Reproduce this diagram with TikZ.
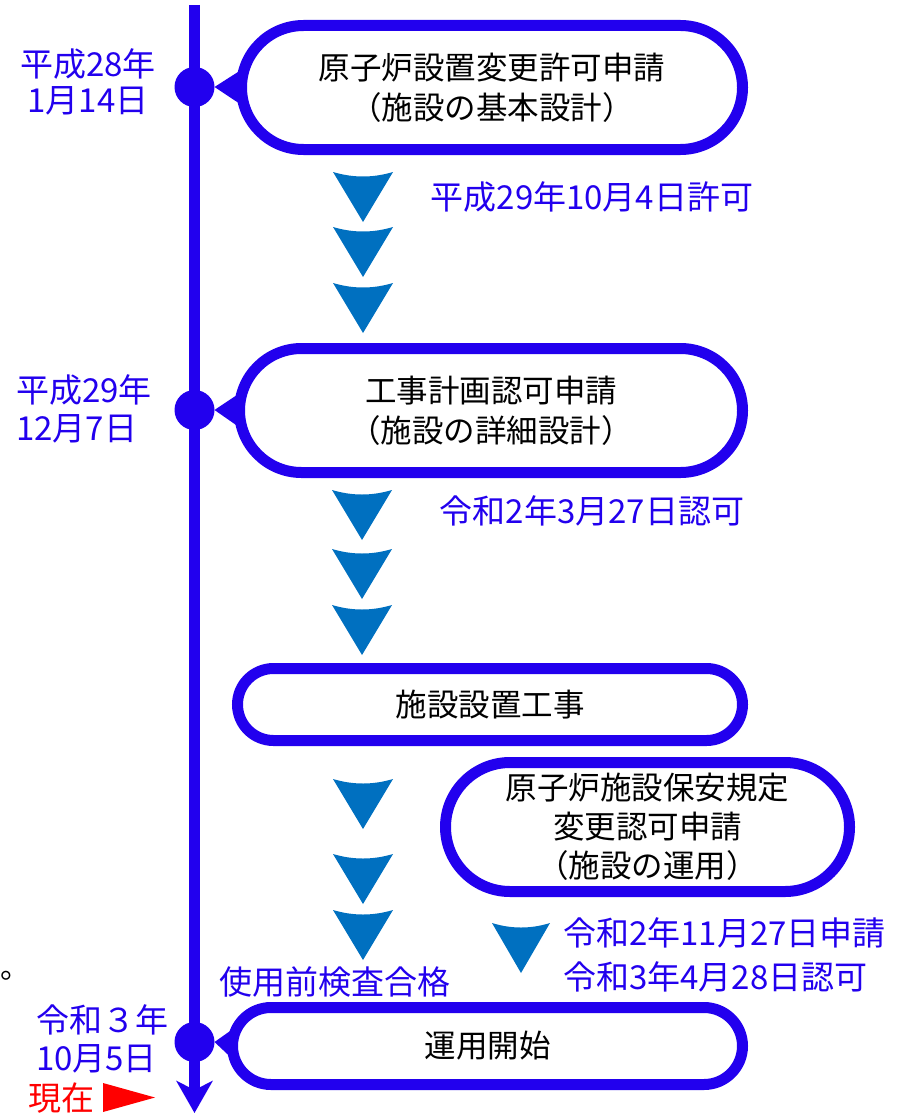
\documentclass[tikz,border=0pt]{standalone}
\usepackage{fontspec}
\setmainfont{Noto Sans CJK JP}
\usetikzlibrary{shapes.misc,arrows.meta,calc}
\pgfdeclarelayer{background}
\pgfsetlayers{background,main}
\definecolor{tblue}{RGB}{34,0,238}
\definecolor{triblue}{RGB}{0,112,192}
\begin{document}
\begin{tikzpicture}[x=1pt,y=-1pt,
  bbox/.style={rounded rectangle, draw=tblue, line width=11pt, fill=white, inner sep=0pt, outer sep=0pt,
    font=\fontsize{31.5}{40}\selectfont, align=center, text=black},
  dtext/.style={font=\fontsize{33}{37}\selectfont, text=tblue, inner sep=0pt},
  tdot/.style={circle, fill=tblue, minimum size=40pt, inner sep=0pt, outer sep=0pt},
  timeline/.style={draw=tblue, line width=11pt, -{Stealth[length=32pt, width=36pt, inset=9pt]}},
  pointer/.style={fill=tblue},
  chevron/.pic={\fill[triblue] (-30,0) .. controls (-10,6) and (10,6) .. (30,0) -- (0,50) -- cycle;},
  smallchevron/.pic={\fill[triblue] (-29,0) .. controls (-10,6) and (10,6) .. (29,0) -- (0,50) -- cycle;}
]
\useasboundingbox (0,0) rectangle (905,1113);

% timeline
\coordinate (tltop) at (194.5,5);
\coordinate (tlbot) at (194.5,1113);
\draw[timeline] (tltop) -- (tlbot);

% dots
\node[tdot] (d1) at (194.5,87) {};
\node[tdot] (d2) at (194.5,410) {};
\node[tdot] (d3) at (194.5,1042) {};

% boxes
\node[bbox, minimum width=501pt, minimum height=124pt] (b1) at (492,87.5) {原子炉設置変更許可申請\\（施設の基本設計）};
\node[bbox, minimum width=503pt, minimum height=124pt] (b2) at (491,410.5) {工事計画認可申請\\（施設の詳細設計）};
\node[bbox, minimum width=505pt, minimum height=72pt] (b3) at (490,704.5) {施設設置工事};
\node[bbox, minimum width=404pt, minimum height=129pt, font=\fontsize{31.5}{39}\selectfont] (b4) at (647.5,827) {原子炉施設保安規定\\変更認可申請\\（施設の運用）};
\node[bbox, minimum width=510pt, minimum height=77pt] (b5) at (487.5,1046) {運用開始};

% pointers from dots to boxes
\begin{pgfonlayer}{background}
\fill[pointer] (d1.east) -- ($(b1.west)+(16,-28)$) -- ($(b1.west)+(16,28)$) -- cycle;
\fill[pointer] (d2.east) -- ($(b2.west)+(16,-28)$) -- ($(b2.west)+(16,28)$) -- cycle;
\fill[pointer] (d3.east) -- ($(b5.west)+(16,-28)$) -- ($(b5.west)+(16,28)$) -- cycle;
\end{pgfonlayer}

% chevrons
\pic at (363,172) {chevron};
\pic at (363,227) {chevron};
\pic at (363,283) {chevron};
\pic at (362,490) {chevron};
\pic at (362,549) {chevron};
\pic at (362,605) {chevron};
\pic at (363,779) {chevron};
\pic at (363,854) {chevron};
\pic at (363,910) {chevron};
\pic at (521,923) {smallchevron};

% left dates
\node[dtext, align=center, font=\fontsize{33}{36}\selectfont] (t1) at (88,82) {平成28年\\1月14日};
\node[dtext, align=left, font=\fontsize{33}{38}\selectfont] (t2) at (84,409) {平成29年\\12月7日};
\node[dtext, align=left, font=\fontsize{33}{38}\selectfont] (t3) at (102,1039) {令和３年\\10月5日};

% right dates
\node[dtext] (r1) at (592,197) {平成29年10月4日許可};
\node[dtext] (r2) at (592,511) {令和2年3月27日認可};
\node[dtext, anchor=west] (r3) at (563,933) {令和2年11月27日申請};
\node[dtext, anchor=west] (r4) at (563,977) {令和3年4月28日認可};
\node[dtext] (pass) at (335,982) {使用前検査合格};

% now marker
\node[dtext, text=red] (now) at (61,1098) {現在};
\fill[red] (103,1083) -- (155,1097.5) -- (103,1112) -- cycle;

% stray mark
\node[anchor=base west, inner sep=0pt, font=\fontsize{30}{30}\selectfont] (mark) at (0,978) {。};
\end{tikzpicture}
\end{document}
